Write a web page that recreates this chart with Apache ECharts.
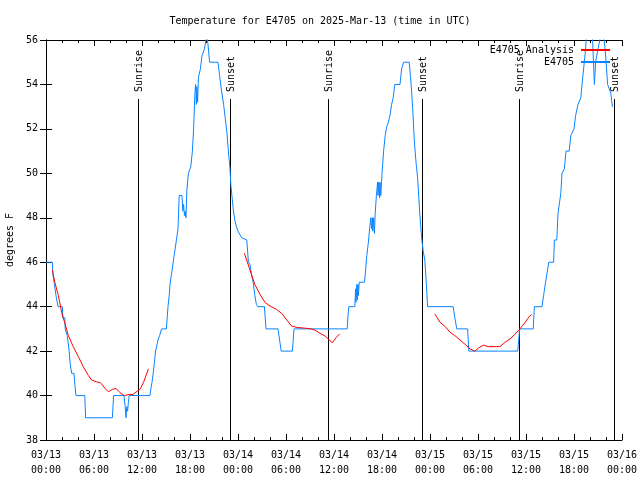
<!DOCTYPE html>
<html><head><meta charset="utf-8">
<script src="https://cdn.jsdelivr.net/npm/echarts@6/dist/echarts.min.js"></script>
<style>html,body{margin:0;padding:0;background:#fff}#c{width:640px;height:480px}</style>
</head><body><div id="c"></div>
<script>
// x values are hours since 2025-03-13 00:00 UTC
const xTickLabels = ['03/13\n00:00','03/13\n06:00','03/13\n12:00','03/13\n18:00','03/14\n00:00','03/14\n06:00','03/14\n12:00','03/14\n18:00','03/15\n00:00','03/15\n06:00','03/15\n12:00','03/15\n18:00','03/16\n00:00'];

const obsHours = [0,0.8,0.85,1.0,1.05,1.2,1.25,1.45,1.5,2.05,2.1,2.35,2.4,2.6,2.65,2.85,2.9,3.0,3.1,3.2,3.5,3.6,3.75,4.85,4.95,8.3,8.45,9.75,9.9,10.0,10.1,10.2,10.3,10.4,13.0,13.1,13.25,13.4,13.55,13.7,13.9,14.0,14.2,14.45,15.05,15.15,15.25,15.4,15.5,15.7,15.9,16.1,16.3,16.5,16.65,17.0,17.1,17.2,17.3,17.4,17.5,17.6,17.8,18.1,18.3,18.45,18.6,18.7,18.8,18.85,18.95,19.05,19.3,19.5,19.8,20.0,20.1,20.25,20.45,21.5,21.7,21.95,22.2,22.4,22.6,22.8,23.0,23.1,23.4,23.6,23.8,24.0,24.45,25.1,25.2,25.3,25.5,25.7,25.9,26.1,26.3,26.45,27.3,27.4,27.5,29.0,29.2,29.4,30.8,30.9,31.0,37.65,37.75,37.85,38.6,38.7,38.75,38.85,38.9,39.0,39.05,39.15,39.8,39.9,40.1,40.3,40.45,40.6,40.7,40.8,40.85,40.95,41.05,41.15,41.3,41.45,41.5,41.6,41.7,41.75,41.85,42.0,42.2,42.4,42.6,42.8,43.0,43.2,43.4,43.6,44.25,44.45,44.7,45.4,45.55,45.7,45.85,46.05,46.25,46.45,46.7,46.95,47.15,47.35,47.55,47.7,50.9,51.1,51.35,52.7,52.85,58.95,59.05,59.2,60.9,61.05,62.0,62.2,62.4,62.65,62.85,63.45,63.55,63.85,64.0,64.35,64.5,64.8,65.0,65.4,65.6,66.0,66.2,66.5,66.85,67.0,67.2,67.4,67.6,68.0,68.3,68.55,68.7,69.0,69.35,69.7,69.85,70.0,70.2,70.35,70.5,70.6,70.8];
const obsTemps = [46,46,45.5,45.5,45,45,44.5,44.5,44,44,43.5,43.5,43,43,42.7,42.7,42,41.5,41.5,41,41,40.5,40,40,39,39,40,40,39.5,39,39.5,39.3,39.7,40,40,40.3,40.6,41,41.5,42,42,42.5,42.7,43,43,43.5,44,44.5,45,45.5,46,46.5,47,47.5,49,49,48.3,48.6,48.1,48.3,48,49.2,50,50.3,51,52,53.5,54,53.1,53.9,53.2,54.3,54.7,55.3,55.6,56,56.2,55.8,55,55,54.4,53.7,53.1,52.5,51.9,51,50.2,49.5,48.4,47.9,47.6,47.4,47.1,47,46.5,46,45.9,45.4,45.1,44.5,44.1,44,44,43.5,43,43,42.5,42,42,42.5,43,43,43.6,44,44,44.8,44.2,45,44.3,45,44.5,45.1,45.1,45.4,46.3,46.9,47.5,48,47.5,48,47.4,48,47.3,48.2,49,49.6,49,49.6,48.9,49.6,49,50,51,51.7,52.1,52.3,52.6,53.1,53.4,54,54,54.7,55,55,54.4,53.7,52.8,51.4,50.5,49.8,48.3,47.1,46.5,46.1,45,44,44,43.5,43,43,42,42,42.3,43,43,44,44,44.5,45,45,46,46,47,47,48.2,49.1,50,50.2,51,51,51.7,52,52.6,53.1,53.4,54,54.7,55.4,56.4,56.6,56.2,54,55,55.6,56.2,56.2,55.7,55.1,54,54,53.7,53.6,53.0];

const analysisHours = [0.8,1.1,1.55,1.95,2.4,2.8,3.4,4.05,4.65,5.3,5.7,6.3,6.8,7.4,7.8,8.3,8.75,9.25,9.8,10.4,10.9,11.4,11.75,12.2,12.8,null,24.8,25.5,26.1,26.75,27.4,28.0,28.8,29.45,30.1,30.7,31.3,33.0,33.6,34.25,34.9,35.4,35.8,36.3,36.7,null,48.6,49.25,49.9,50.5,51.1,51.75,52.4,53.0,53.6,54.1,54.7,55.3,56.75,57.4,58.0,58.6,59.25,59.9,60.4,60.7];
const analysisTemps = [45.65,45.1,44.5,43.75,43.2,42.7,42.2,41.75,41.3,40.9,40.7,40.62,40.58,40.32,40.17,40.28,40.32,40.13,40.0,40.05,40.05,40.2,40.28,40.6,41.2,null,46.4,45.65,45.0,44.55,44.18,44.03,43.88,43.7,43.4,43.13,43.07,43.01,42.95,42.8,42.68,42.5,42.38,42.62,42.77,null,43.67,43.3,43.1,42.85,42.7,42.5,42.3,42.1,42.0,42.15,42.27,42.2,42.2,42.4,42.55,42.75,43.0,43.3,43.55,43.65];

const sunHours = [11.45, 23.05, 35.3, 47.05, 59.15, 71.05];
const sunLabels = ['Sunrise','Sunset','Sunrise','Sunset','Sunrise','Sunset'];

const FONT = '"DejaVu Sans Mono", "Liberation Mono", monospace';
const Y_MIN = 38, Y_MAX = 56;

const obsData = obsHours.map((h, i) => [h, obsTemps[i]]);
const anaData = analysisHours.map((h, i) => h === null ? '-' : [h, analysisTemps[i]]);
const sunData = sunHours.map(h => [h, Y_MIN]);

const chart = echarts.init(document.getElementById('c'), null, {renderer: 'canvas'});
const axisCommon = {
  type: 'value', min: 0, max: 72, interval: 6,
  axisLine: {show: true, lineStyle: {color: '#000', width: 1}},
  axisTick: {show: true, inside: true, length: 6, lineStyle: {color: '#000'}},
  minorTick: {show: true, splitNumber: 3, length: 3, lineStyle: {color: '#000'}},
  splitLine: {show: false}
};
const yCommon = {
  type: 'value', min: Y_MIN, max: Y_MAX, interval: 2,
  axisLine: {show: true, lineStyle: {color: '#000', width: 1}},
  axisTick: {show: true, inside: true, length: 6, lineStyle: {color: '#000'}},
  splitLine: {show: false}
};
chart.setOption({
  animation: false,
  backgroundColor: '#fff',
  title: {
    text: 'Temperature for E4705 on 2025-Mar-13 (time in UTC)',
    left: 'center', top: 11,
    textStyle: {fontFamily: FONT, fontSize: 10, fontWeight: 'normal', color: '#000'}
  },
  legend: {
    orient: 'vertical', right: 30, top: 45, align: 'right', padding: 0,
    itemWidth: 29, itemHeight: 2, itemGap: 2, icon: 'rect',
    textStyle: {fontFamily: FONT, fontSize: 10, color: '#000', padding: [0, 2, 0, 0]},
    data: ['E4705 Analysis', 'E4705']
  },
  grid: {left: 46, right: 18, top: 40, bottom: 40, containLabel: false, outerBoundsMode: 'none'},
  xAxis: [
    Object.assign({}, axisCommon, {
      position: 'bottom',
      axisLabel: {
        fontFamily: FONT, fontSize: 10, color: '#000', margin: 8, lineHeight: 15,
        formatter: v => xTickLabels[Math.round(v / 6)]
      }
    }),
    Object.assign({}, axisCommon, {position: 'top', axisLabel: {show: false}})
  ],
  yAxis: [
    Object.assign({}, yCommon, {
      position: 'left',
      name: 'degrees F', nameLocation: 'middle', nameGap: 29, nameRotate: 90,
      nameTextStyle: {fontFamily: FONT, fontSize: 10, color: '#000'},
      axisLabel: {fontFamily: FONT, fontSize: 10, color: '#000', margin: 8}
    }),
    Object.assign({}, yCommon, {position: 'right', axisLabel: {show: false}})
  ],
  series: [
    {
      type: 'custom', name: 'sun', xAxisIndex: 0, yAxisIndex: 0, z: 1,
      data: sunData, encode: {x: 0, y: 1}, silent: true,
      renderItem: function (params, api) {
        const p = api.coord([api.value(0), Y_MIN]);
        const x = Math.round(p[0]) + 0.5;
        const top = params.coordSys.y + 59;
        return {
          type: 'group',
          children: [
            {type: 'line', shape: {x1: x, y1: p[1], x2: x, y2: top},
             style: {stroke: '#000', lineWidth: 1}},
            {type: 'text', x: x + 1, y: top - 7, rotation: Math.PI / 2,
             style: {text: sunLabels[params.dataIndex], fill: '#000',
                     fontFamily: FONT, fontSize: 10, align: 'left', verticalAlign: 'middle'}}
          ]
        };
      }
    },
    {
      type: 'line', name: 'E4705 Analysis', data: anaData, z: 3,
      symbol: 'none', connectNulls: false, clip: true,
      lineStyle: {color: '#ff0000', width: 1}, itemStyle: {color: '#ff0000'}
    },
    {
      type: 'line', name: 'E4705', data: obsData, z: 2,
      symbol: 'none', clip: true,
      lineStyle: {color: '#0a84ff', width: 1}, itemStyle: {color: '#0a84ff'}
    }
  ]
});
</script>
</body></html>
